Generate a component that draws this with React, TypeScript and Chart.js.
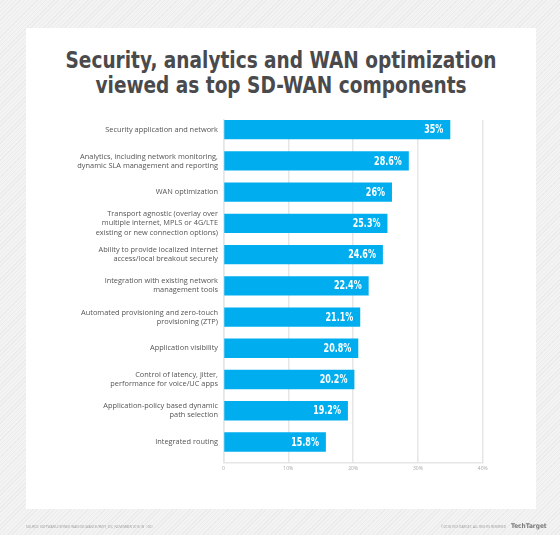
import React, { useEffect, useRef } from "react";
import { Chart, registerables } from "chart.js";

Chart.register(...registerables);

const titleLines = [
  "Security, analytics and WAN optimization",
  "viewed as top SD-WAN components",
];

const categories: string[][] = [
  ["Security application and network"],
  ["Analytics, including network monitoring,", "dynamic SLA management and reporting"],
  ["WAN optimization"],
  ["Transport agnostic (overlay over", "multiple internet, MPLS or 4G/LTE", "existing or new connection options)"],
  ["Ability to provide localized internet", "access/local breakout securely"],
  ["Integration with existing network", "management tools"],
  ["Automated provisioning and zero-touch", "provisioning (ZTP)"],
  ["Application visibility"],
  ["Control of latency, jitter,", "performance for voice/UC apps"],
  ["Application-policy based dynamic", "path selection"],
  ["Integrated routing"],
];

const values = [35, 28.6, 26, 25.3, 24.6, 22.4, 21.1, 20.8, 20.2, 19.2, 15.8];
const valueLabels = ["35%", "28.6%", "26%", "25.3%", "24.6%", "22.4%", "21.1%", "20.8%", "20.2%", "19.2%", "15.8%"];
const xTickValues = [0, 10, 20, 30, 40];
const xTickLabels = ["0", "10%", "20%", "30%", "40%"];

const sourceText = "SOURCE: SOFTWARE-DEFINED WAN (SD-WAN) SURVEY, IDC, NOVEMBER 2016 (N=100)";
const copyrightText = "\u00A92018 TECHTARGET. ALL RIGHTS RESERVED";
const logoText = "TechTarget";

const BAR = "#00AEEF";
const GRID = "#e6e6e6";

const valueLabelPlugin = {
  id: "valueLabels",
  afterDatasetsDraw(chart: any) {
    const ctx = chart.ctx;
    const meta = chart.getDatasetMeta(0);
    meta.data.forEach((bar: any, i: number) => {
      ctx.save();
      ctx.fillStyle = "#ffffff";
      ctx.font = "bold 12px 'DejaVu Sans Condensed', 'DejaVu Sans', sans-serif";
      ctx.textAlign = "right";
      ctx.textBaseline = "middle";
      ctx.translate(bar.x - 7, bar.y + 0.5);
      ctx.scale(0.74, 1);
      ctx.fillText(valueLabels[i], 0, 0);
      ctx.restore();
    });
  },
};

export default function App() {
  const canvasRef = useRef<HTMLCanvasElement | null>(null);

  useEffect(() => {
    document.body.style.margin = "0";
    const canvas = canvasRef.current;
    if (!canvas) return;
    const chart = new Chart(canvas, {
      type: "bar",
      data: {
        datasets: [
          {
            data: values.map((v, i) => ({ x: v, y: i })),
            backgroundColor: BAR,
            borderWidth: 0,
            categoryPercentage: 1,
            barPercentage: 0.62,
          } as any,
        ],
      },
      options: {
        indexAxis: "y",
        responsive: false,
        animation: false,
        layout: { padding: { top: 120, right: 77.3, bottom: 0, left: 0 } },
        plugins: {
          legend: { display: false },
          tooltip: { enabled: false },
          title: { display: false },
        },
        scales: {
          x: {
            type: "linear",
            position: "bottom",
            min: 0,
            max: 40,
            offset: false,
            grid: { color: GRID, lineWidth: 1.5, drawTicks: false, offset: false },
            border: { display: true, color: GRID, width: 1.5 },
            ticks: {
              padding: 3,
              color: "#a8a8a8",
              font: { size: 5, family: "'Open Sans', sans-serif" },
              callback: (v: any) => xTickLabels[xTickValues.indexOf(Number(v))] ?? "",
            },
            afterBuildTicks: (s: any) => {
              s.ticks = xTickValues.map((value) => ({ value }));
            },
            afterFit: (s: any) => {
              s.height = 72.7;
            },
          },
          y: {
            type: "linear",
            reverse: true,
            min: -0.31,
            max: 10.65,
            offset: false,
            grid: { display: false, drawTicks: false, offset: false },
            border: { display: true, color: GRID, width: 1.5 },
            ticks: {
              autoSkip: false,
              padding: 5.5,
              color: "#555555",
              font: { size: 7.4, family: "'Open Sans', sans-serif", lineHeight: 1.22 },
              callback: (v: any) => categories[Number(v)] ?? "",
            },
            afterBuildTicks: (s: any) => {
              s.ticks = categories.map((_, i) => ({ value: i }));
            },
            afterFit: (s: any) => {
              s.width = 223.5;
            },
          },
        } as any,
      },
      plugins: [valueLabelPlugin],
    });
    return () => chart.destroy();
  }, []);

  return (
    <div
      style={{
        position: "fixed",
        left: 0,
        top: 0,
        width: 560,
        height: 535,
        overflow: "hidden",
        background:
          "repeating-linear-gradient(135deg, #f3f3f3 0px, #f3f3f3 2px, #ebebeb 2px, #ebebeb 3px)",
      }}
    >
      <div
        style={{
          position: "absolute",
          left: 26,
          top: 28,
          width: 510,
          height: 481,
          background: "#ffffff",
        }}
      />
      <div
        style={{
          position: "absolute",
          left: 26,
          top: 48,
          width: 510,
          textAlign: "center",
          fontFamily: "'DejaVu Sans Condensed', 'DejaVu Sans', sans-serif",
          fontWeight: "bold",
          fontSize: 23.5,
          lineHeight: "25px",
          color: "#4a4a4c",
          transform: "scaleX(0.876)",
          transformOrigin: "255px 0px",
        }}
      >
        {titleLines.map((t) => (
          <div key={t} style={{ whiteSpace: "nowrap" }}>{t}</div>
        ))}
      </div>
      <canvas
        ref={canvasRef}
        width={560}
        height={535}
        style={{ position: "absolute", left: 0, top: 0, width: 560, height: 535 }}
      />
      <div
        style={{
          position: "absolute",
          left: 26,
          top: 525,
          fontFamily: "'Open Sans', sans-serif",
          fontSize: 3.2,
          lineHeight: "4px",
          color: "#9a9a9a",
          whiteSpace: "nowrap",
        }}
      >
        {sourceText}
      </div>
      <div
        style={{
          position: "absolute",
          left: 441,
          top: 525,
          fontFamily: "'Open Sans', sans-serif",
          fontSize: 3.2,
          lineHeight: "4px",
          color: "#9a9a9a",
          whiteSpace: "nowrap",
        }}
      >
        {copyrightText}
      </div>
      <div
        style={{
          position: "absolute",
          left: 511,
          top: 522,
          fontFamily: "'DejaVu Sans Condensed', 'DejaVu Sans', sans-serif",
          fontWeight: "bold",
          fontSize: 6.5,
          lineHeight: "8px",
          color: "#7a7a7a",
          whiteSpace: "nowrap",
        }}
      >
        {logoText}
      </div>
    </div>
  );
}
